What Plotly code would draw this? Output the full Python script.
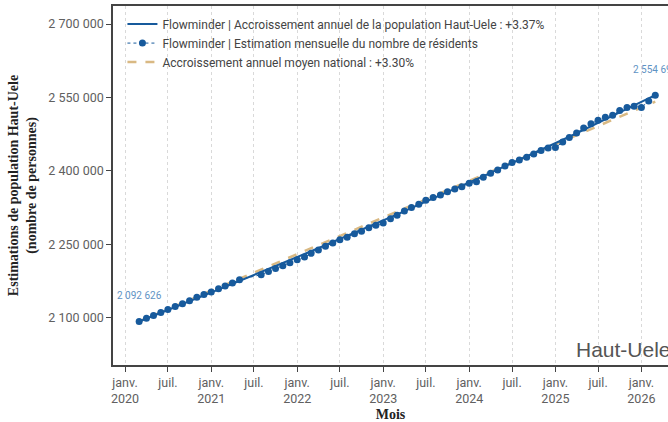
import pandas as pd
import plotly.graph_objects as go

# estimations mensuelles (mars 2020 - mars 2026, juin et juil. 2021 absents)
months = [d for d in pd.date_range("2020-03-01", "2026-03-01", freq="MS")
          if d.strftime("%Y-%m") not in ("2021-06", "2021-07")]
monthly_pop = [
    2092626, 2099100, 2105000, 2110900, 2116900, 2123000, 2129000, 2134900,
    2142300, 2147600, 2152800, 2159400, 2165200, 2171000, 2177900,
    2188300, 2194600, 2200900, 2206500, 2212300, 2218700, 2224100, 2231800,
    2238700, 2246200, 2252900, 2259400, 2264600, 2271600, 2276700, 2283800,
    2288900, 2293600, 2302400, 2309600, 2318400, 2325400, 2332200, 2340400,
    2346000, 2350700, 2357500, 2363000, 2367800, 2375000, 2378000, 2387100,
    2395300, 2402100, 2410300, 2417100, 2422600, 2428200, 2434400, 2441700,
    2446700, 2447900, 2459000, 2468500, 2477500, 2487800, 2496600, 2503400,
    2509600, 2513700, 2523300, 2529500, 2532200, 2529500, 2542900, 2554690,
]

# accroissement annuel Haut-Uele (+3.37%)
trend_dates = ["2020-03-01", "2021-03-01", "2022-03-01", "2023-03-01",
               "2024-03-01", "2025-03-01", "2026-03-01"]
trend_pop = [2092626, 2163150, 2236050, 2311400, 2389300, 2469800, 2554690]

# accroissement annuel moyen national (+3.30%)
nat_dates = ["2020-03-01", "2026-03-01"]
nat_pop = [2092626, 2541500]

tick_dates = pd.date_range("2020-01-01", "2026-01-01", freq="6MS")
tick_text = [f"janv.<br>{d.year}" if d.month == 1 else "juil." for d in tick_dates]

blue = "#175a9c"
tan = "#d9b983"
grey = "#606060"


def fmt(v):
    return f"{v:,}".replace(",", " ")


fig = go.Figure()
fig.add_trace(go.Scatter(
    x=nat_dates, y=nat_pop, mode="lines",
    line=dict(color=tan, width=2.5, dash="dash"),
    name="Accroissement annuel moyen national : +3.30%", legendrank=3,
))
fig.add_trace(go.Scatter(
    x=trend_dates, y=trend_pop, mode="lines",
    line=dict(color=blue, width=2),
    name="Flowminder | Accroissement annuel de la population Haut-Uele : +3.37%",
    legendrank=1,
))
fig.add_trace(go.Scatter(
    x=months, y=monthly_pop, mode="lines+markers",
    line=dict(color=blue, width=1, dash="dot"),
    marker=dict(color=blue, size=7),
    name="Flowminder | Estimation mensuelle du nombre de résidents", legendrank=2,
))

fig.add_annotation(x=months[0], y=monthly_pop[0], text=fmt(monthly_pop[0]),
                   showarrow=False, yshift=26, font=dict(size=10, color="#5f93c4"))
fig.add_annotation(x=months[-1], y=monthly_pop[-1], text=fmt(monthly_pop[-1]),
                   showarrow=False, yshift=26, font=dict(size=10, color="#5f93c4"))
fig.add_annotation(xref="paper", yref="paper", x=0.831, y=0.005, xanchor="left",
                   yanchor="bottom", text="Haut-Uele", showarrow=False,
                   font=dict(size=21, color="#555555", family="Liberation Sans"))

fig.update_layout(
    width=668, height=422,
    margin=dict(l=113, r=0, t=6, b=57),
    plot_bgcolor="white", paper_bgcolor="white",
    separators=", ",
    font=dict(family="Roboto", size=12, color=grey),
    showlegend=True,
    legend=dict(x=0.017, y=0.99, xanchor="left", yanchor="top",
                bgcolor="rgba(255,255,255,0)",
                font=dict(size=12, color="#444444"), tracegroupgap=0),
    xaxis=dict(
        range=["2019-11-11", "2026-04-24"],
        tickvals=tick_dates, ticktext=tick_text,
        ticks="outside", ticklen=5, tickcolor="#444444",
        showline=True, linecolor="#444444", linewidth=1.5, mirror=True,
        showgrid=True, gridcolor="#d9d9d9", griddash="dot", gridwidth=1,
        zeroline=False,
        tickfont=dict(size=12.5),
        title=dict(text="<b>Mois</b>", standoff=6,
                   font=dict(family="Liberation Serif", size=14, color="#222222")),
    ),
    yaxis=dict(
        range=[2003750, 2736860],
        tick0=2100000, dtick=150000, tickformat=",",
        ticks="outside", ticklen=5, tickcolor="#444444",
        showline=True, linecolor="#444444", linewidth=1.5,
        showgrid=False, zeroline=False,
        tickfont=dict(size=12.5),
        title=dict(text="<b>Estimations de population Haut-Uele<br>(nombre de personnes)</b>",
                   standoff=8,
                   font=dict(family="Liberation Serif", size=14, color="#222222")),
    ),
)

fig.write_html("out.html", config={"displayModeBar": False},
               post_script="document.body.style.margin='0';"
                           "document.body.style.overflow='hidden';")
